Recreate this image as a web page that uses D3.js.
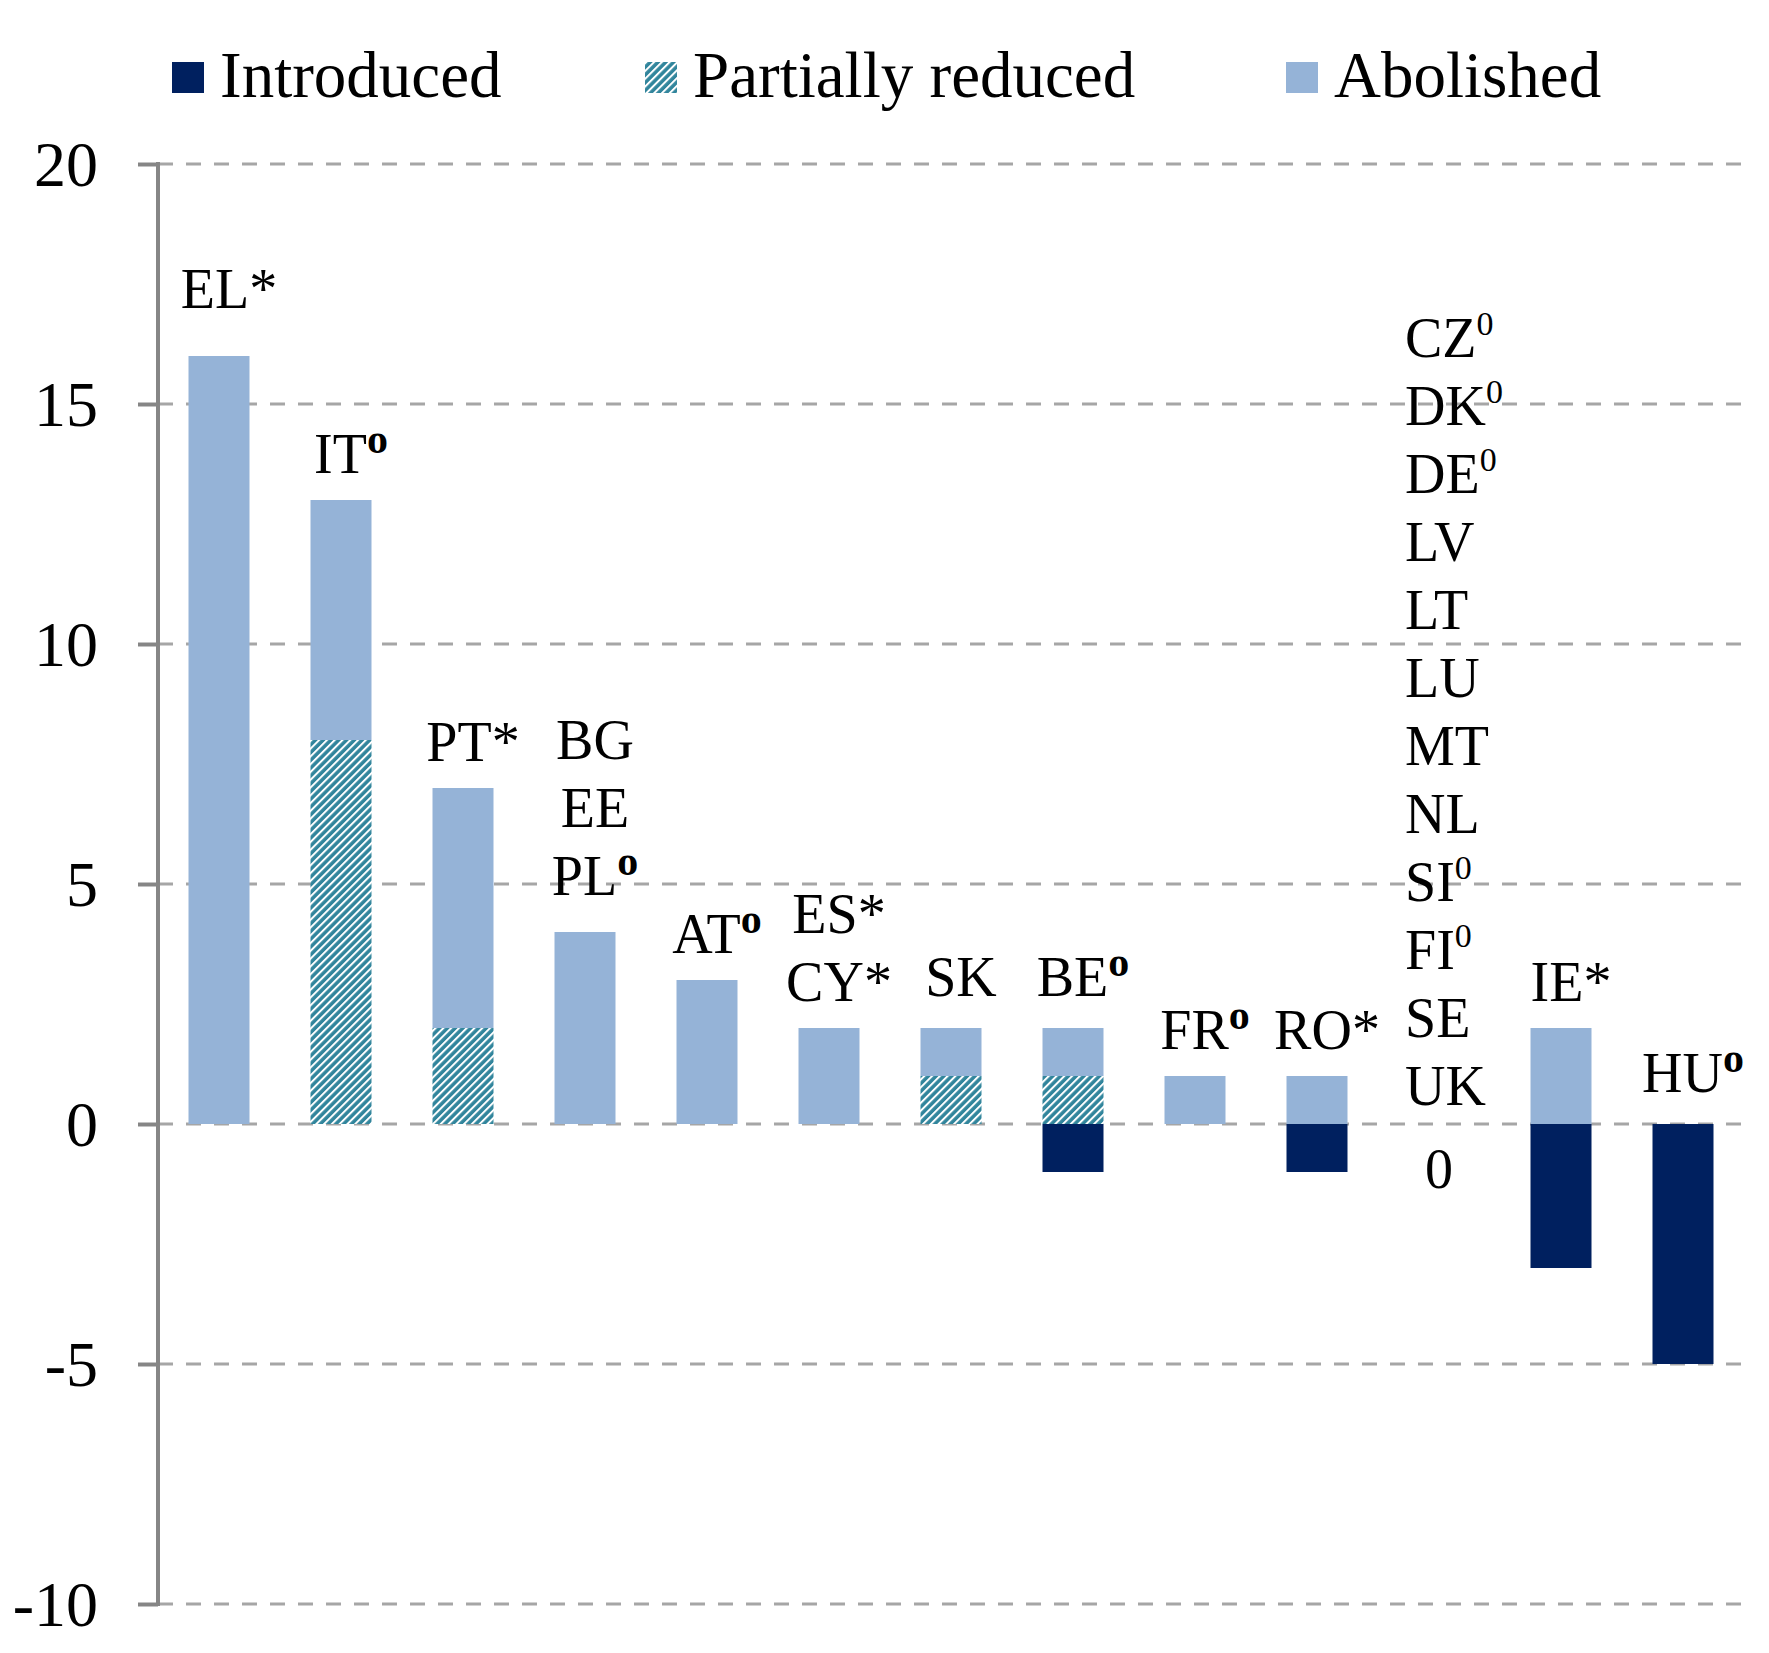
<!DOCTYPE html>
<html>
<head>
<meta charset="utf-8">
<script src="https://cdn.jsdelivr.net/npm/d3@7"></script>
<style>
  body { margin: 0; background: #fff; }
  text { font-family: "Liberation Serif", "Times New Roman", serif; fill: #000; }
</style>
</head>
<body>
<div id="chart"></div>
<script>
// categories (one bar each) and the three series
const categories = ['EL', 'IT', 'PT', 'BG-EE-PL', 'AT', 'ES-CY', 'SK', 'BE', 'FR', 'RO', 'CZ-UK', 'IE', 'HU'];
const introduced = [0, 0, 0, 0, 0, 0, 0, -1, 0, -1, 0, -3, -5];
const partiallyReduced = [0, 8, 2, 0, 0, 0, 1, 1, 0, 0, 0, 0, 0];
const abolished = [16, 5, 5, 4, 3, 2, 1, 1, 1, 1, 0, 2, 0];

// text shown above each bar, '^' marks a superscript character
const countryLabels = [
    ['EL*'], ['IT^o'], ['PT*'], ['BG', 'EE', 'PL^o'], ['AT^o'], ['ES*', 'CY*'], ['SK'],
    ['BE^o'], ['FR^o'], ['RO*'],
    ['CZ^0', 'DK^0', 'DE^0', 'LV', 'LT', 'LU', 'MT', 'NL', 'SI^0', 'FI^0', 'SE', 'UK'],
    ['IE*'], ['HU^o']
];

const seriesNames = ['Introduced', 'Partially reduced', 'Abolished'];
const yTicks = [-10, -5, 0, 5, 10, 15, 20];

const width = 1769;
const height = 1653;
const axisX = 158;
const plotRight = 1744;
const plotTop = 164;
const plotBottom = 1604;

const colours = {
    'Introduced': '#00205F',
    'Partially reduced': 'url(#hatch)',
    'Abolished': '#95B3D7'
};

const rows = categories.map((c, i) => ({
    cat: c,
    'Introduced': introduced[i],
    'Partially reduced': partiallyReduced[i],
    'Abolished': abolished[i]
}));

const stacked = d3.stack()
    .keys(seriesNames)
    .offset(d3.stackOffsetDiverging)(rows);

const xScale = d3.scaleBand()
    .domain(categories)
    .range([axisX, plotRight])
    .paddingInner(0.5)
    .paddingOuter(0.25);

const yScale = d3.scaleLinear()
    .domain([-10, 20])
    .range([plotBottom, plotTop]);

const svg = d3.select('#chart')
    .append('svg')
    .attr('width', width)
    .attr('height', height);

svg.append('rect').attr('width', width).attr('height', height).attr('fill', '#fff');

// hatch pattern for "partially reduced"
const pattern = svg.append('defs')
    .append('pattern')
    .attr('id', 'hatch')
    .attr('patternUnits', 'userSpaceOnUse')
    .attr('width', 5.5)
    .attr('height', 5.5)
    .attr('patternTransform', 'rotate(45)');
pattern.append('rect').attr('width', 5.5).attr('height', 5.5).attr('fill', '#31859C');
pattern.append('line')
    .attr('x1', 1).attr('x2', 1)
    .attr('y1', 0).attr('y2', 5.5)
    .attr('stroke', '#fff')
    .attr('stroke-width', 2);

// gridlines
svg.append('g')
    .selectAll('line')
    .data(yTicks)
    .enter()
    .append('line')
    .attr('x1', axisX)
    .attr('x2', plotRight)
    .attr('y1', d => yScale(d))
    .attr('y2', d => yScale(d))
    .attr('stroke', '#A6A6A6')
    .attr('stroke-width', 3)
    .attr('stroke-dasharray', '15 13');

// y axis
const yAxis = svg.append('g')
    .attr('transform', `translate(${axisX}, 0)`)
    .call(d3.axisLeft(yScale).tickValues(yTicks).tickSize(20).tickPadding(40).tickFormat(d3.format('d')));
yAxis.select('.domain').remove();
yAxis.selectAll('.tick line').attr('stroke', '#868686').attr('stroke-width', 4);
yAxis.selectAll('.tick text')
    .attr('font-family', '"Liberation Serif", "Times New Roman", serif')
    .attr('font-size', 64)
    .attr('dy', '0.33em')
    .attr('fill', '#000')
    .text(d => d < 0 ? '-' + Math.abs(d) : d);

svg.append('line')
    .attr('x1', axisX).attr('x2', axisX)
    .attr('y1', plotTop - 2).attr('y2', plotBottom + 2)
    .attr('stroke', '#868686')
    .attr('stroke-width', 4);

// bars
svg.append('g')
    .selectAll('g')
    .data(stacked)
    .enter()
    .append('g')
    .attr('fill', d => colours[d.key])
    .selectAll('rect')
    .data(d => d)
    .enter()
    .append('rect')
    .attr('x', d => xScale(d.data.cat))
    .attr('width', xScale.bandwidth())
    .attr('y', d => yScale(Math.max(d[0], d[1])))
    .attr('height', d => Math.abs(yScale(d[0]) - yScale(d[1])));

// country labels
const lineHeight = 68;
const labelNudge = { 'EL': -21, 'BG-EE-PL': -10, 'SK': -5, 'BE': -5, 'HU': -5 };

function addLabelLine(textSel, str) {
    const parts = str.split('^');
    textSel.append('tspan').text(parts[0]);
    if (parts.length > 1) {
        const isDigit = parts[1] === '0';
        textSel.append('tspan')
            .attr('font-size', isDigit ? 34 : 42)
            .attr('font-weight', isDigit ? 'normal' : 'bold')
            .attr('dy', isDigit ? -22 : -20)
            .text(parts[1]);
    }
}

categories.forEach((cat, i) => {
    const top = partiallyReduced[i] + abolished[i];
    const cx = xScale(cat) + xScale.bandwidth() / 2;
    const lines = countryLabels[i];
    const total = top + Math.abs(introduced[i]);

    if (total === 0) {
        // empty category: names stacked left aligned, value 0 shown under axis line
        const lastBase = yScale(0) - 19;
        lines.forEach((ln, j) => {
            const t = svg.append('text')
                .attr('x', cx - 34)
                .attr('y', lastBase - (lines.length - 1 - j) * lineHeight)
                .attr('font-size', 56)
                .attr('text-anchor', 'start');
            addLabelLine(t, ln);
        });
        svg.append('text')
            .attr('x', cx)
            .attr('y', yScale(0) + 64)
            .attr('font-size', 56)
            .attr('text-anchor', 'middle')
            .text(top);
        return;
    }

    const lastBase = yScale(top) - 27 + (labelNudge[cat] || 0);
    lines.forEach((ln, j) => {
        const t = svg.append('text')
            .attr('x', cx + 10)
            .attr('y', lastBase - (lines.length - 1 - j) * lineHeight)
            .attr('font-size', 56)
            .attr('text-anchor', 'middle');
        addLabelLine(t, ln);
    });
});

// legend
const legendX = [172, 645, 1286];
const legend = svg.append('g')
    .selectAll('g')
    .data(seriesNames)
    .enter()
    .append('g')
    .attr('transform', (d, i) => `translate(${legendX[i]}, 62)`);
legend.append('rect')
    .attr('width', 32)
    .attr('height', 31)
    .attr('fill', d => colours[d]);
legend.append('text')
    .attr('x', 48)
    .attr('y', 35)
    .attr('font-size', 65)
    .text(d => d);
</script>
</body>
</html>
